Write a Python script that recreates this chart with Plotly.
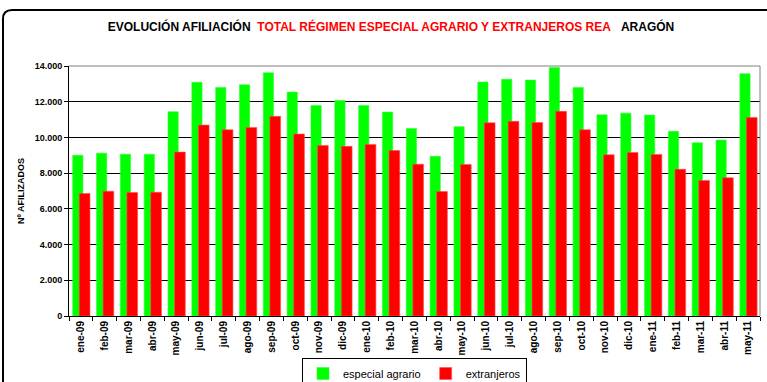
import plotly.graph_objects as go

# Monthly affiliation counts, Régimen Especial Agrario (Aragón)
meses = ["ene-09", "feb-09", "mar-09", "abr-09", "may-09", "jun-09", "jul-09", "ago-09",
         "sep-09", "oct-09", "nov-09", "dic-09", "ene-10", "feb-10", "mar-10", "abr-10",
         "may-10", "jun-10", "jul-10", "ago-10", "sep-10", "oct-10", "nov-10", "dic-10",
         "ene-11", "feb-11", "mar-11", "abr-11", "may-11"]
especial_agrario = [9000, 9120, 9060, 9060, 11440, 13090, 12800, 12950,
                    13620, 12540, 11790, 12070, 11790, 11420, 10500, 8940,
                    10600, 13100, 13260, 13210, 13920, 12800, 11270, 11360,
                    11250, 10340, 9700, 9850, 13570]
extranjeros = [6860, 6990, 6920, 6930, 9180, 10690, 10430, 10560,
               11180, 10190, 9550, 9500, 9610, 9270, 8500, 6970,
               8490, 10820, 10900, 10840, 11460, 10430, 9030, 9160,
               9050, 8220, 7590, 7740, 11120]
y_ticks = [0, 2000, 4000, 6000, 8000, 10000, 12000, 14000]

W, H = 767, 382
ML, MR, MT, MB = 69, 7, 66, 66
PW, PH = W - ML - MR, H - MT - MB


def px(x):
    return (x - ML) / PW


def py(y):
    return 1 - (y - MT) / PH


fig = go.Figure()
fig.add_trace(go.Bar(
    x=meses, y=especial_agrario, name="especial agrario",
    marker=dict(color="#00ff00", line=dict(color="#33ff33", width=0.6)),
    width=0.43, offset=-0.345,
))
fig.add_trace(go.Bar(
    x=meses, y=extranjeros, name="extranjeros",
    marker=dict(color="#ff0000", line=dict(color="#ff5050", width=0.6)),
    width=0.45, offset=-0.07,
))

FAMILY = "Liberation Sans, Arial, sans-serif"
ytick_font = dict(family=FAMILY, size=9, color="black", weight="bold")
xtick_font = dict(family=FAMILY, size=10, color="black", weight="bold")

# rounded outer frame of the chart
frame = (f"M {px(3)} {py(392)} L {px(3)} {py(19)} Q {px(3)} {py(10)} {px(12)} {py(10)} "
         f"L {px(775)} {py(10)}")

fig.update_layout(
    width=W, height=H,
    margin=dict(l=ML, r=MR, t=MT, b=MB, autoexpand=False),
    paper_bgcolor="white", plot_bgcolor="white",
    barmode="overlay",
    separators=",.",
    showlegend=True,
    title=dict(
        text=("<b>EVOLUCIÓN AFILIACIÓN\u00a0\u00a0<span style='color:#ff0000'>TOTAL RÉGIMEN ESPECIAL "
              "AGRARIO Y EXTRANJEROS REA</span>\u00a0\u00a0\u00a0ARAGÓN</b>"),
        xref="container", x=391 / W, xanchor="center",
        yref="container", y=1 - 27 / H, yanchor="middle",
        font=dict(family=FAMILY, size=12, color="black"),
    ),
    xaxis=dict(
        type="category", tickangle=-90, tickfont=xtick_font,
        ticks="outside", ticklen=4, tickcolor="black", tickson="boundaries",
        showline=True, linecolor="black", linewidth=1, mirror=False,
        showgrid=False, range=[-0.5, len(meses) - 0.5], automargin=False,
    ),
    yaxis=dict(
        range=[0, 14000], tickvals=y_ticks, tickformat=",.0f", tickfont=ytick_font,
        ticks="outside", ticklen=4, tickcolor="black",
        showline=True, linecolor="black", linewidth=1,
        showgrid=True, gridcolor="black", gridwidth=1,
        zeroline=False, automargin=False,
        title=dict(text="Nº AFILIZADOS", font=ytick_font, standoff=8),
    ),
    legend=dict(
        orientation="h", x=px(302), xanchor="left",
        y=py(358), yanchor="top",
        font=dict(family=FAMILY, size=11, color="black"),
        bordercolor="black", borderwidth=1, bgcolor="white",
        itemwidth=30, tracegroupgap=0,
    ),
    shapes=[
        # gray plot-area border on top and right
        dict(type="path", xref="paper", yref="paper", path="M 0 1 L 1 1 L 1 0",
             line=dict(color="#808080", width=1)),
        dict(type="path", xref="paper", yref="paper", path=frame,
             line=dict(color="black", width=2)),
    ],
)

fig.write_html("out.html")
